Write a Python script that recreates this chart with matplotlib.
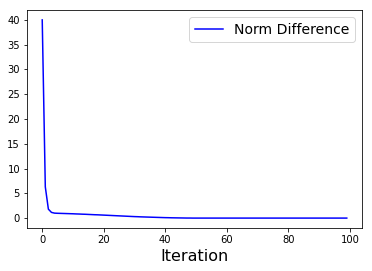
import matplotlib

matplotlib.use("Agg")
import matplotlib.pyplot as plt

# norme de la différence entre deux itérations successives
iterations = list(range(100))
norm_diff = [
    40.0, 6.3, 1.8, 1.15, 1.0, 0.97, 0.95, 0.93, 0.91, 0.89,
    0.87, 0.84, 0.82, 0.79, 0.77, 0.74, 0.71, 0.68, 0.66, 0.63,
    0.60, 0.57, 0.54, 0.51, 0.48, 0.45, 0.42, 0.39, 0.36, 0.33,
    0.30, 0.28, 0.25, 0.23, 0.21, 0.19, 0.17, 0.15, 0.13, 0.11,
    0.09, 0.08, 0.06, 0.05, 0.04, 0.03, 0.02, 0.01, 0.01, 0.0,
] + [0.0] * 50

fig = plt.figure(figsize=(372 / 72, 271 / 72), dpi=72)
ax = fig.add_axes([27 / 372, 1 - 228 / 271, (362 - 27) / 372, (228 - 10) / 271])
ax.plot(iterations, norm_diff, color="b", lw=1.5, label="Norm Difference")
ax.set_xticks([0, 20, 40, 60, 80, 100])
ax.set_yticks([0, 5, 10, 15, 20, 25, 30, 35, 40])
ax.tick_params(labelsize=10)
ax.set_xlabel("Iteration", fontsize=16)
ax.legend(fontsize=14)
fig.savefig("out.png", dpi=72)
